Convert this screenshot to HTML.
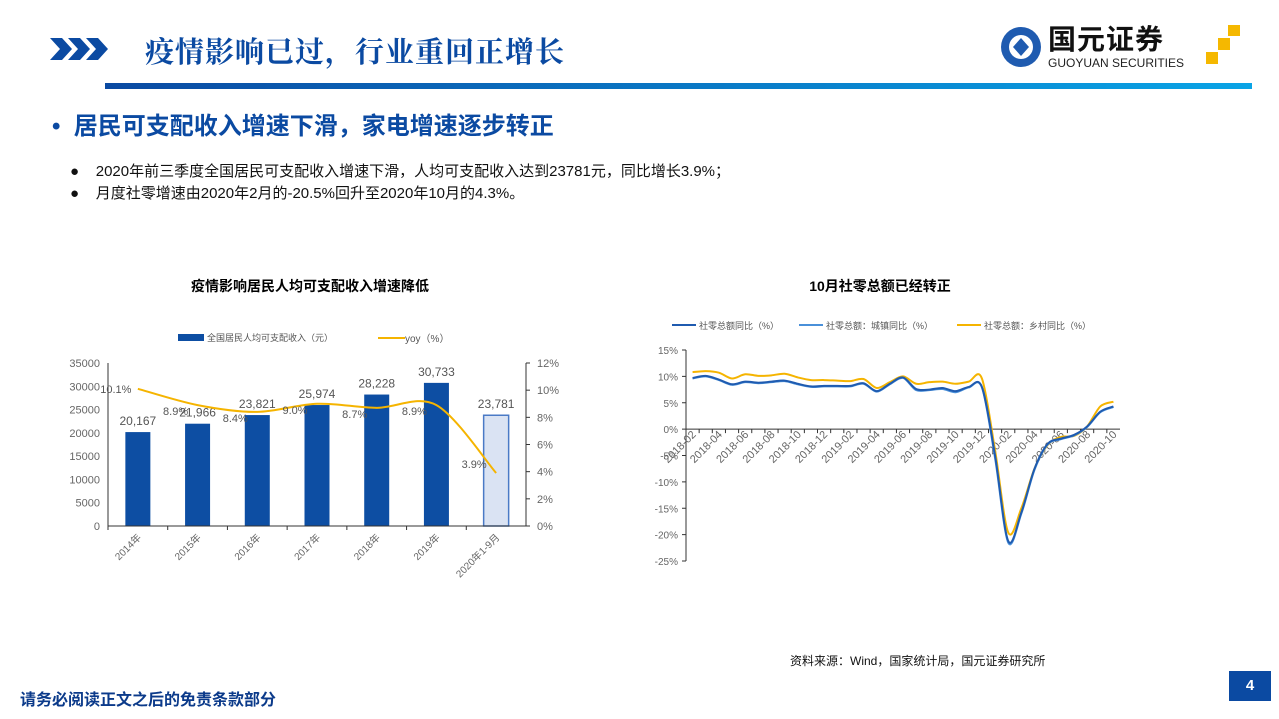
<!DOCTYPE html>
<html><head><meta charset="utf-8">
<style>
body{margin:0;width:1279px;height:719px;overflow:hidden;background:#fff;font-family:"Liberation Sans","Noto Sans CJK SC",sans-serif;position:relative}
.abs{position:absolute}
</style></head><body>
<div class="abs" style="left:50px;top:34px">
<svg width="80" height="30"><g fill="#0b4aa2"><polygon points="0,4 12,4 22,15 12,26 0,26 10,15"/><polygon points="18,4 30,4 40,15 30,26 18,26 28,15"/><polygon points="36,4 48,4 58,15 48,26 36,26 46,15"/></g></svg></div>
<div class="abs" style="left:145px;top:30px;font-size:29px;font-weight:bold;color:#0b4aa2;font-family:'Noto Serif CJK SC',serif;letter-spacing:1px">疫情影响已过，行业重回正增长</div>
<div class="abs" style="left:105px;top:83px;width:1147px;height:6px;background:linear-gradient(90deg,#0b4aa2,#0aa4e6)"></div>
<div class="abs" style="left:996px;top:22px;width:260px;height:50px">
<svg width="260" height="50"><circle cx="25" cy="25" r="20" fill="#1f5bb0"/><circle cx="25" cy="25" r="12" fill="#fff"/><polygon points="25,16 33,25 25,34 17,25" fill="#1f5bb0"/>
<polygon points="232,3 244,3 244,14 232,14" fill="#f5b800"/><polygon points="222,16 234,16 234,28 222,28" fill="#f5b800"/><polygon points="210,30 222,30 222,42 210,42" fill="#f5b800"/></svg>
<div class="abs" style="left:52px;top:-4px;font-size:28px;font-weight:bold;color:#111;letter-spacing:1px">国元证券</div>
<div class="abs" style="left:52px;top:34px;font-size:12px;color:#222">GUOYUAN SECURITIES</div></div>
<div class="abs" style="left:52px;top:106px;font-size:24px;font-weight:bold;color:#0b4aa2">•&nbsp; 居民可支配收入增速下滑，家电增速逐步转正</div>
<div class="abs" style="left:70px;top:160px;font-size:15px;color:#111">●&nbsp;&nbsp;&nbsp; 2020年前三季度全国居民可支配收入增速下滑，人均可支配收入达到23781元，同比增长3.9%；</div>
<div class="abs" style="left:70px;top:182px;font-size:15px;color:#111">●&nbsp;&nbsp;&nbsp; 月度社零增速由2020年2月的-20.5%回升至2020年10月的4.3%。</div>
<div class="abs" style="left:110px;top:276px;width:400px;text-align:center;font-size:14px;font-weight:bold">疫情影响居民人均可支配收入增速降低</div>
<div class="abs" style="left:700px;top:276px;width:360px;text-align:center;font-size:14px;font-weight:bold">10月社零总额已经转正</div>
<svg class="abs" style="left:0;top:0" width="1279" height="719" id="charts"></svg>
<div class="abs" style="left:790px;top:652px;font-size:12px;color:#111">资料来源：Wind，国家统计局，国元证券研究所</div>
<div class="abs" style="left:20px;top:686px;font-size:16px;font-weight:bold;color:#0b3a8a">请务必阅读正文之后的免责条款部分</div>
<div class="abs" style="left:1229px;top:671px;width:42px;height:30px;background:#0b4aa2;color:#fff;font-weight:bold;font-size:15px;text-align:center;line-height:30px">4</div>
<script>
const incCats=["2014年","2015年","2016年","2017年","2018年","2019年","2020年1-9月"];
const incVals=[20167,21966,23821,25974,28228,30733,23781];
const incLabels=["20,167","21,966","23,821","25,974","28,228","30,733","23,781"];
const yoyVals=[10.1,8.9,8.4,9.0,8.7,8.9,3.9];
const leftTicks=[0,5000,10000,15000,20000,25000,30000,35000];
const rightTicks=[0,2,4,6,8,10,12];
const months=["2018-02","2018-03","2018-04","2018-05","2018-06","2018-07","2018-08","2018-09","2018-10","2018-11","2018-12","2019-01","2019-02","2019-03","2019-04","2019-05","2019-06","2019-07","2019-08","2019-09","2019-10","2019-11","2019-12","2020-01","2020-02","2020-03","2020-04","2020-05","2020-06","2020-07","2020-08","2020-09","2020-10"];
const totalVals=[9.7,10.1,9.4,8.5,9.0,8.8,9.0,9.2,8.6,8.1,8.2,8.2,8.2,8.7,7.2,8.6,9.8,7.6,7.5,7.8,7.2,8.0,8.0,-5,-21.2,-15.8,-7.5,-2.8,-1.8,-1.1,0.5,3.3,4.3];
const urbanVals=[9.6,10.0,9.3,8.4,8.9,8.7,8.9,9.1,8.5,8.0,8.1,8.1,8.1,8.6,7.1,8.5,9.7,7.4,7.4,7.6,7.0,7.9,7.9,-5.5,-21.5,-16,-7.7,-2.9,-1.9,-1.2,0.4,3.2,4.2];
const ruralVals=[10.8,11.0,10.7,9.6,10.4,10.1,10.2,10.5,9.8,9.3,9.3,9.2,9.1,9.5,7.8,8.9,10.0,8.6,8.9,9.0,8.6,9.0,9.6,-4,-19.6,-15,-7.5,-3,-1.5,-1.3,0.5,4.3,5.2];
const pctTicks=[15,10,5,0,-5,-10,-15,-20,-25];
const NS="http://www.w3.org/2000/svg";
const svg=document.getElementById('charts');
function mk(t,a,txt){const e=document.createElementNS(NS,t);for(const k in a)e.setAttribute(k,a[k]);if(txt!==undefined)e.textContent=txt;svg.appendChild(e);return e;}
function smooth(p){let d="M"+p[0][0]+","+p[0][1];for(let i=0;i<p.length-1;i++){const p0=p[i-1]||p[i],p1=p[i],p2=p[i+1],p3=p[i+2]||p2;const t=0.16;d+=" C"+(p1[0]+(p2[0]-p0[0])*t)+","+(p1[1]+(p2[1]-p0[1])*t)+" "+(p2[0]-(p3[0]-p1[0])*t)+","+(p2[1]-(p3[1]-p1[1])*t)+" "+p2[0]+","+p2[1];}return d;}
// left chart
const L=108,R=526,T=363,B=526;
const yL=v=>B-(v/35000)*(B-T), yR=v=>B-(v/12)*(B-T);
const cw=(R-L)/incCats.length, xc=i=>L+cw*(i+0.5);
leftTicks.forEach(v=>{const t=mk('text',{x:L-8,y:yL(v)+4,'text-anchor':'end','font-size':11,fill:'#666'},v);

});
rightTicks.forEach(v=>{const t=mk('text',{x:R+11,y:yR(v)+4,'font-size':11,fill:'#666'},v+'%');


mk('line',{x1:R,x2:R+4,y1:yR(v),y2:yR(v),stroke:'#333'});});
incVals.forEach((v,i)=>{const last=i===incVals.length-1;
const r=mk('rect',{x:xc(i)-12.5,y:yL(v),width:25,height:B-yL(v),fill:last?'#dae3f3':'#0d4ea3',stroke:last?'#4a7ac6':'none','stroke-width':1.5});


const t=mk('text',{x:xc(i),y:yL(v)-7,'text-anchor':'middle','font-size':12,fill:'#555'},incLabels[i]);


const c=mk('text',{x:0,y:0,'font-size':10,fill:'#666','text-anchor':'end',transform:`translate(${xc(i)+4},${B+12}) rotate(-45)`},incCats[i]);


mk('line',{x1:L+cw*i,x2:L+cw*i,y1:B,y2:B+4,stroke:'#333'});});
mk('line',{x1:L,x2:L,y1:T,y2:B,stroke:'#333'});mk('line',{x1:R,x2:R,y1:T,y2:B,stroke:'#333'});mk('line',{x1:L,x2:R,y1:B,y2:B,stroke:'#333'});
const yp=yoyVals.map((v,i)=>[xc(i),yR(v)]);
const yl=mk('path',{d:smooth(yp),fill:'none',stroke:'#f5b400','stroke-width':2});


yoyVals.forEach((v,i)=>{const t=mk('text',{x:xc(i)-22,y:yR(v)+(i==0?4:i==6?-5:10),'text-anchor':'middle','font-size':11,fill:'#555'},v.toFixed(1)+'%');

});
mk('rect',{x:178,y:334,width:26,height:7,fill:'#0d4ea3'});
let lg=mk('text',{x:207,y:341,'font-size':9,fill:'#555'},'全国居民人均可支配收入（元）');


mk('line',{x1:378,x2:405,y1:338,y2:338,stroke:'#f5b400','stroke-width':2});
lg=mk('text',{x:405,y:342,'font-size':10,fill:'#555'},'yoy（%）');


// right chart
const L2=686,R2=1120,T2=350,B2=561;
const y2=v=>T2+(15-v)/40*(B2-T2);
const cw2=(R2-L2)/months.length,x2=i=>L2+cw2*(i+0.5);
pctTicks.forEach(v=>{const t=mk('text',{x:L2-8,y:y2(v)+4,'text-anchor':'end','font-size':10,fill:'#666'},v+'%');


mk('line',{x1:L2-4,x2:L2,y1:y2(v),y2:y2(v),stroke:'#333'});});
mk('line',{x1:L2,x2:L2,y1:T2,y2:B2,stroke:'#333'});mk('line',{x1:L2,x2:R2,y1:y2(0),y2:y2(0),stroke:'#333'});
months.forEach((m,i)=>{mk('line',{x1:L2+cw2*i,x2:L2+cw2*i,y1:y2(0),y2:y2(0)+4,stroke:'#333'});
if(i%2===0){const t=mk('text',{x:0,y:0,'font-size':11,fill:'#666','text-anchor':'end',transform:`translate(${x2(i)+4},${y2(0)+6}) rotate(-45)`},m);

}});
[[ruralVals,'#f5b400','rural-line'],[urbanVals,'#4a90d9','urban-line'],[totalVals,'#1f5bb0','total-line']].forEach(([vals,c,n])=>{
const p=mk('path',{d:smooth(vals.map((v,i)=>[x2(i),y2(v)])),fill:'none',stroke:c,'stroke-width':2});

});
[['社零总额同比（%）','#1f5bb0',672],['社零总额：城镇同比（%）','#4a90d9',799],['社零总额：乡村同比（%）','#f5b400',957]].forEach(([s,c,x])=>{
mk('line',{x1:x,x2:x+24,y1:325,y2:325,stroke:c,'stroke-width':2});
const t=mk('text',{x:x+27,y:329,'font-size':9,fill:'#555'},s);

});
</script>
</body></html>
